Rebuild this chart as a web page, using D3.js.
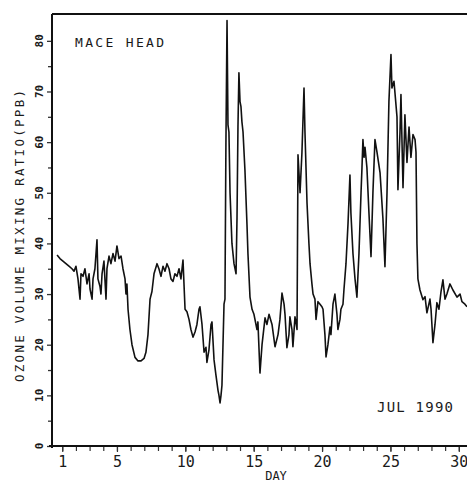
<!DOCTYPE html>
<html>
<head>
<meta charset="utf-8">
<script src="https://cdn.jsdelivr.net/npm/d3@7"></script>
<style>
  body { margin: 0; background: #fff; }
  text { font-family: "DejaVu Sans Mono", "Liberation Mono", monospace; fill: #1a1a1a; }
</style>
</head>
<body>
<svg id="chart" width="467" height="483"></svg>
<script>
//DATA//////////////////////////////////
// day of July 1990 (fractional) and ozone mixing ratio in ppb
var days = [0.62, 0.83, 1.05, 1.27, 1.49, 1.71, 1.86, 2.00, 2.15, 2.30, 2.37, 2.52, 2.66, 2.81, 2.96, 3.03,
  3.18, 3.25, 3.39, 3.54, 3.61, 3.76, 3.83, 3.91, 4.05, 4.20, 4.27, 4.42, 4.56, 4.71, 4.86, 5.00,
  5.15, 5.30, 5.44, 5.59, 5.66, 5.73, 5.81, 5.95, 6.10, 6.32, 6.54, 6.76, 6.98, 7.12, 7.27, 7.42,
  7.56, 7.71, 7.93, 8.07, 8.22, 8.37, 8.51, 8.66, 8.81, 8.95, 9.10, 9.24, 9.39, 9.54, 9.68, 9.83,
  9.98, 10.12, 10.27, 10.41, 10.56, 10.71, 10.85, 11.00, 11.07, 11.22, 11.37, 11.51, 11.58, 11.73, 11.88, 11.95,
  12.10, 12.24, 12.39, 12.46, 12.54, 12.61, 12.68, 12.83, 12.90, 12.97, 13.05, 13.12, 13.19, 13.27, 13.41, 13.56,
  13.71, 13.78, 13.85, 13.92, 14.00, 14.07, 14.14, 14.22, 14.36, 14.51, 14.58, 14.73, 14.88, 15.02, 15.24, 15.31,
  15.46, 15.61, 15.83, 15.97, 16.12, 16.34, 16.56, 16.78, 16.92, 17.07, 17.22, 17.29, 17.43, 17.58, 17.65, 17.80,
  17.87, 18.02, 18.09, 18.17, 18.24, 18.39, 18.53, 18.68, 18.75, 18.90, 19.04, 19.12, 19.26, 19.34, 19.48, 19.56,
  19.70, 19.85, 19.99, 20.07, 20.21, 20.29, 20.43, 20.58, 20.65, 20.80, 20.94, 21.09, 21.16, 21.31, 21.38, 21.53,
  21.60, 21.75, 21.90, 22.04, 22.11, 22.26, 22.41, 22.55, 22.70, 22.85, 22.92, 22.99, 23.07, 23.14, 23.28, 23.43,
  23.50, 23.58, 23.72, 23.87, 24.02, 24.24, 24.45, 24.60, 24.75, 24.89, 25.04, 25.11, 25.26, 25.33, 25.48, 25.55,
  25.70, 25.77, 25.92, 26.06, 26.21, 26.36, 26.50, 26.65, 26.80, 26.87, 26.94, 27.01, 27.16, 27.38, 27.53, 27.67,
  27.89, 27.97, 28.11, 28.26, 28.40, 28.55, 28.70, 28.84, 28.99, 29.13, 29.35, 29.57, 29.87, 30.09, 30.23, 30.45, 30.60];

var ozone = [37.7, 37, 36.5, 36, 35.5, 35, 34.5, 35.5, 33, 29, 34, 33.5, 35, 32, 34, 31,
  29, 33, 35, 40.7, 33, 31.5, 30, 34, 36.5, 29, 35, 37.5, 36, 38, 36.5, 39.5,
  37, 37.5, 35, 33, 30, 32, 27, 23, 20, 17.5, 16.8, 16.8, 17.3, 18.5, 22, 29,
  30.5, 34, 36, 35, 33.5, 35.5, 34.5, 36, 35, 33, 32.5, 34, 33.5, 35, 33, 36.7,
  27, 26.5, 25, 23, 21.5, 22.5, 24, 27, 27.5, 24, 18.5, 19.5, 16.5, 19, 24, 24.5,
  17, 14, 11, 10, 8.5, 10, 12, 28, 29, 60, 84, 63.4, 62, 50, 40, 36,
  34, 45, 63, 73.7, 68, 67, 64, 62, 54.5, 43.7, 38, 29.4, 27, 26, 23, 24.5,
  14.4, 20, 25.3, 24, 26, 24, 19.6, 22, 25, 30.2, 28, 26, 19.4, 22, 25.5, 23,
  19.6, 25.5, 24.5, 23, 57.5, 50, 58, 70.7, 62, 48, 40, 36, 32, 30, 29, 25,
  28.5, 28, 27.5, 27, 22, 17.6, 20, 23.5, 22, 28, 30, 26, 23, 25, 27, 28,
  30.8, 36, 44, 53.5, 46, 38, 33, 29.4, 38, 50, 55, 60.5, 57, 59, 55, 46,
  42, 37.4, 50, 60.5, 58, 54, 45, 35.4, 50, 68, 77.3, 70.7, 72, 69.8, 65, 50.6,
  62, 69.4, 51, 65.4, 56, 63, 57, 61.5, 60.5, 58, 40, 33, 30.8, 28.9, 29.5, 26.3,
  29, 27, 20.4, 24, 28.3, 27, 30.5, 32.8, 29, 30, 32, 30.8, 29.4, 30, 28.5, 28, 27.5];

var xTickLabels = [1, 5, 10, 15, 20, 25, 30];
var yTickLabels = [0, 10, 20, 30, 40, 50, 60, 70, 80];

//SCALES////////////////////////////////
var svg = d3.select("#chart");
var plotL = 52, plotR = 467, plotT = 14, plotB = 446;

var x = d3.scaleLinear().domain([0.25, 30.6]).range([plotL, plotR]);
var y = d3.scaleLinear().domain([0, 85.3]).range([plotB, plotT]);

//AXES//////////////////////////////////
// minor day ticks
var gx = svg.append("g").attr("transform", "translate(0," + plotB + ")");
gx.call(d3.axisBottom(x).tickValues(d3.range(1, 31)).tickSize(5).tickFormat(""));
gx.append("g")
  .call(d3.axisBottom(x).tickValues(xTickLabels).tickSize(6).tickPadding(4)
    .tickFormat(function (d) { return d; }));
gx.selectAll(".domain").remove();
gx.selectAll("line").attr("stroke", "#333").attr("stroke-width", 1.2);
gx.selectAll("text")
  .attr("font-size", 15)
  .attr("font-family", "DejaVu Sans Mono")
  .attr("fill", "#222");

var gy = svg.append("g").attr("transform", "translate(" + plotL + ",0)");
gy.call(d3.axisLeft(y).tickValues(d3.range(5, 85, 10)).tickSize(4).tickFormat(""));
gy.append("g")
  .call(d3.axisLeft(y).tickValues(yTickLabels).tickSize(5).tickFormat(""));
gy.selectAll(".domain").remove();
gy.selectAll("line").attr("stroke", "#333").attr("stroke-width", 1.3);

// rotated y tick labels
svg.append("g").selectAll("text")
  .data(yTickLabels)
  .join("text")
  .attr("transform", function (d) { return "translate(43," + y(d) + ") rotate(-90)"; })
  .attr("text-anchor", "middle")
  .attr("font-size", 11)
  .attr("font-weight", "bold")
  .text(function (d) { return d; });

// axis lines and top frame
svg.append("line").attr("x1", plotL - 3).attr("x2", plotR).attr("y1", plotB).attr("y2", plotB)
  .attr("stroke", "#111").attr("stroke-width", 2);
svg.append("line").attr("x1", plotL).attr("x2", plotL).attr("y1", plotT).attr("y2", plotB + 2)
  .attr("stroke", "#111").attr("stroke-width", 2);
svg.append("line").attr("x1", plotL).attr("x2", plotR).attr("y1", plotT).attr("y2", plotT)
  .attr("stroke", "#111").attr("stroke-width", 2.2);

//LINE//////////////////////////////////
var line = d3.line()
  .x(function (d, i) { return x(days[i]); })
  .y(function (d) { return y(d); });

svg.append("path")
  .datum(ozone)
  .attr("d", line)
  .attr("fill", "none")
  .attr("stroke", "#111")
  .attr("stroke-width", 1.6)
  .attr("stroke-linejoin", "round");

//LABELS////////////////////////////////
svg.append("text")
  .attr("transform", "translate(24,236) rotate(-90)")
  .attr("text-anchor", "middle")
  .attr("font-size", 12.5)
  .attr("textLength", 292)
  .attr("lengthAdjust", "spacing")
  .text("OZONE VOLUME MIXING RATIO(PPB)");

svg.append("text")
  .attr("x", 75).attr("y", 47)
  .attr("font-size", 13)
  .attr("textLength", 89)
  .attr("lengthAdjust", "spacing")
  .text("MACE HEAD");

svg.append("text")
  .attr("x", 377).attr("y", 412)
  .attr("font-size", 14)
  .attr("textLength", 76)
  .attr("lengthAdjust", "spacing")
  .text("JUL 1990");

svg.append("text")
  .attr("x", 276).attr("y", 480)
  .attr("text-anchor", "middle")
  .attr("font-size", 12)
  .text("DAY");
</script>
</body>
</html>
